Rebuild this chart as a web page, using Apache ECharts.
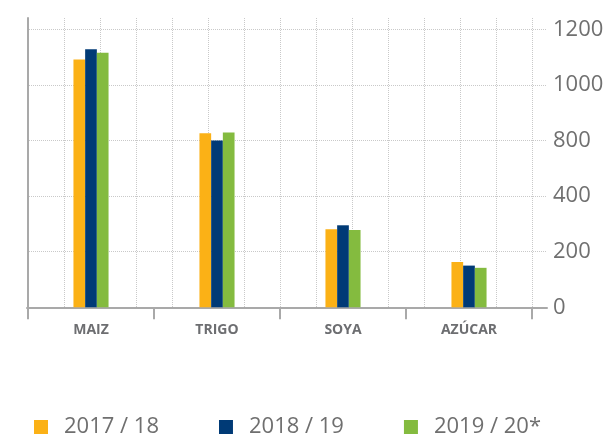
<!DOCTYPE html>
<html>
<head>
<meta charset="utf-8">
<script src="https://cdn.jsdelivr.net/npm/echarts@6/dist/echarts.min.js"></script>
<style>
  html, body { margin: 0; padding: 0; background: #fff; }
  #main { width: 609px; height: 435px; }
</style>
</head>
<body>
<div id="main"></div>
<script>
// datos
var categorias = ['MAIZ', 'TRIGO', 'SOYA', 'AZÚCAR'];
var serieNombres = ['2017 / 18', '2018 / 19', '2019 / 20*'];
var v2017 = [1091, 826, 281, 163];
var v2018 = [1128, 800, 295, 150];
var v2019 = [1116, 829, 278, 142];
// etiquetas del eje (el original salta 600, los intervalos son iguales)
var yTicks = [0, 200, 400, 800, 1000, 1200];

var colores = ['#fbb116', '#003a76', '#84bb3f'];
var gris = '#a9a9a9';
var texto = '#6d6e71';

// valor -> posicion en el eje de marcas equidistantes
function toAxis(v) {
  for (var i = 0; i < yTicks.length - 1; i++) {
    if (v <= yTicks[i + 1]) {
      return i + (v - yTicks[i]) / (yTicks[i + 1] - yTicks[i]);
    }
  }
  return yTicks.length - 1;
}

var myChart = echarts.init(document.getElementById('main'));

var gridTop = 29.3, gridBottom = 127.7;
var maxIdx = yTicks.length - 1;

function serie(nombre, datos, color) {
  return {
    name: nombre,
    type: 'bar',
    xAxisIndex: 0,
    yAxisIndex: 0,
    barWidth: 11.7,
    barGap: '0%',
    itemStyle: { color: color },
    data: datos.map(function (v) { return { value: toAxis(v), real: v }; })
  };
}

var option = {
  animation: false,
  backgroundColor: '#fff',
  textStyle: { fontFamily: 'Open Sans' },
  legend: {
    data: serieNombres,
    left: 29,
    top: 411,
    itemWidth: 14,
    itemHeight: 14,
    itemGap: 60,
    icon: 'rect',
    textStyle: {
      color: '#6f6f6f',
      fontSize: 22,
      lineHeight: 22,
      fontFamily: 'Open Sans',
      padding: [0, 0, 0, 11]
    }
  },
  grid: [
    // barras
    { left: 28, right: 77, top: gridTop, bottom: gridBottom },
    // lineas horizontales
    { left: 27, right: 62, top: gridTop, bottom: gridBottom },
    // lineas verticales
    { left: 28, right: 77, top: 18, bottom: gridBottom }
  ],
  xAxis: [
    {
      type: 'category',
      gridIndex: 0,
      data: categorias,
      axisLine: { show: true, lineStyle: { color: gris, width: 2 } },
      axisTick: { show: true, length: 12, lineStyle: { color: gris, width: 2 } },
      axisLabel: {
        color: texto,
        fontSize: 14,
        fontWeight: 'bold',
        fontFamily: 'Open Sans',
        margin: 16
      },
      splitLine: { show: false }
    },
    {
      type: 'value',
      gridIndex: 1,
      min: 0,
      max: 1,
      axisLine: { show: true, lineStyle: { color: gris, width: 2 } },
      axisTick: { show: false },
      axisLabel: { show: false },
      splitLine: { show: false }
    },
    {
      type: 'value',
      gridIndex: 2,
      min: 0,
      max: 14,
      interval: 1,
      axisLine: { show: false },
      axisTick: { show: false },
      axisLabel: { show: false },
      splitLine: { show: true, lineStyle: { color: '#c9c9c9', type: 'dotted', width: 1 } }
    }
  ],
  yAxis: [
    {
      type: 'value',
      gridIndex: 0,
      position: 'right',
      min: 0,
      max: maxIdx,
      interval: 1,
      axisLine: { show: false },
      axisTick: { show: false },
      axisLabel: {
        color: '#707070',
        fontSize: 22,
        fontFamily: 'Open Sans',
        margin: 21,
        formatter: function (val) { return String(yTicks[Math.round(val)]); }
      },
      splitLine: { show: false }
    },
    {
      type: 'value',
      gridIndex: 1,
      min: 0,
      max: maxIdx,
      interval: 1,
      axisLine: { show: false },
      axisTick: { show: false },
      axisLabel: { show: false },
      splitLine: { show: true, lineStyle: { color: '#c9c9c9', type: 'dotted', width: 1 } }
    },
    {
      type: 'value',
      gridIndex: 2,
      position: 'right',
      min: 0,
      max: 1,
      axisLine: { show: true, lineStyle: { color: gris, width: 2 } },
      axisTick: { show: false },
      axisLabel: { show: false },
      splitLine: { show: false }
    }
  ],
  series: [
    serie(serieNombres[0], v2017, colores[0]),
    serie(serieNombres[1], v2018, colores[1]),
    serie(serieNombres[2], v2019, colores[2])
  ]
};

option && myChart.setOption(option);
</script>
</body>
</html>
